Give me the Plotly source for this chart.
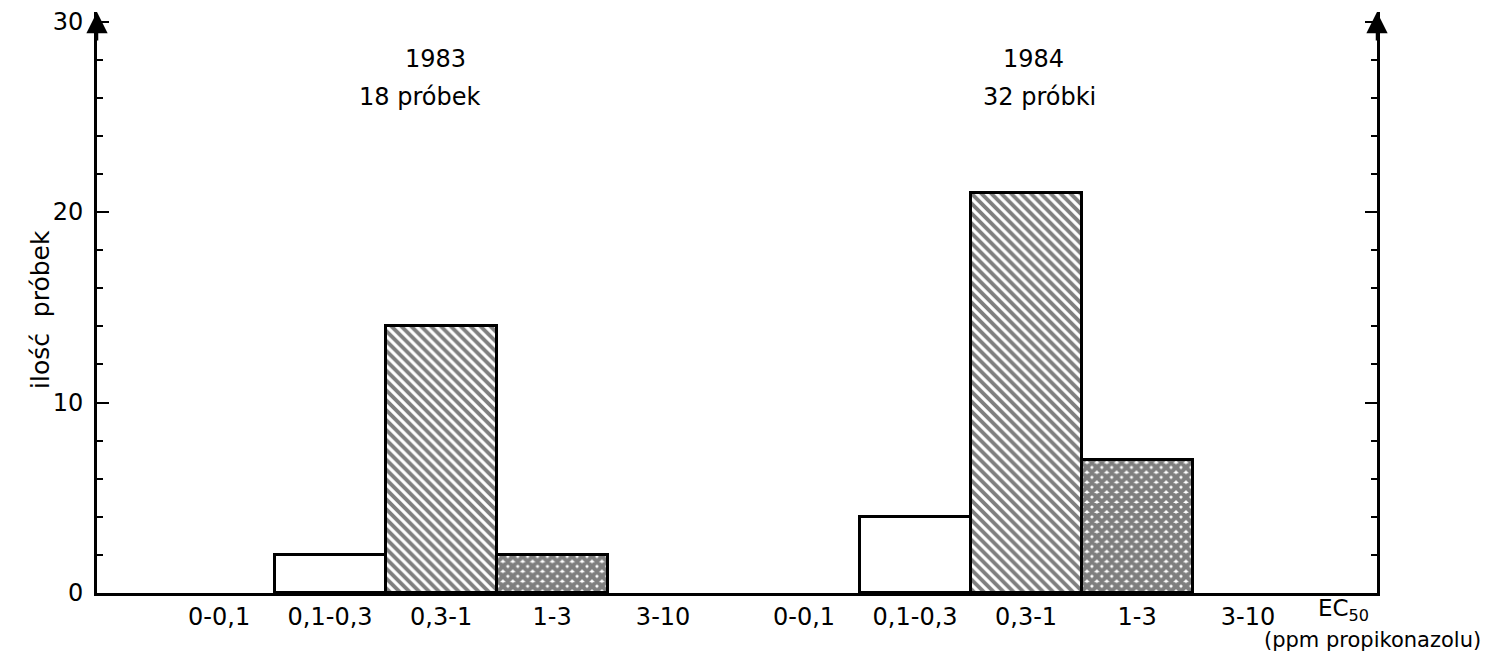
import plotly.graph_objects as go

# ---- data ----
categories = ["0-0,1", "0,1-0,3", "0,3-1", "1-3", "3-10"]
counts_1983 = [0, 2, 14, 2, 0]
counts_1984 = [0, 4, 21, 7, 0]
years = ["1983", "1984"]
sample_labels = ["18 próbek", "32 próbki"]
y_ticks = [0, 10, 20, 30]
y_title = "ilość\u00a0\u00a0próbek"
x_unit_label = "EC<sub>50</sub>"
x_unit_note = "(ppm propikonazolu)"

FONT = "DejaVu Sans"
W, H = 1495, 655
OFF = 8  # page body margin in the browser
# target screen positions of the plot area
SX0, SX1, SY0, SY1 = 97, 1377, 12, 593
ML = SX0 - OFF
MT = SY0 - OFF
plot_w = SX1 - SX0
plot_h = SY1 - SY0
MR = W - ML - plot_w
MB = H - MT - plot_h
px_per_unit = 111.0
x_max = plot_w / px_per_unit
y_max = 30.5

group_start = [1.1, 6.37]
shapes_per_cat = ["", "", "\\", "x", ""]
solid_per_cat = [0, 0, 0.55, 0.85, 0]
size_per_cat = [7, 7, 7, 7, 7]

fig = go.Figure()
all_vals, all_text = [], []
for gi, counts in enumerate([counts_1983, counts_1984]):
    xs = [group_start[gi] + i for i in range(len(categories))]
    all_vals += xs
    all_text += categories
    fig.add_trace(go.Bar(
        x=xs, y=counts, width=1.0,
        marker=dict(
            color="white",
            line=dict(color="black", width=[0 if v == 0 else 3 for v in counts]),
            pattern=dict(shape=shapes_per_cat, fgcolor="black", bgcolor="white",
                         size=size_per_cat, solidity=solid_per_cat, fillmode="overlay"),
        ),
        showlegend=False, hoverinfo="skip",
    ))

fig.update_layout(
    width=W, height=H,
    margin=dict(l=ML, r=MR, t=MT, b=MB, autoexpand=False),
    plot_bgcolor="white", paper_bgcolor="white",
    font=dict(family=FONT, size=24, color="black"),
    bargap=0,
    xaxis=dict(
        range=[0, x_max], showgrid=False, zeroline=False,
        showline=True, linecolor="black", linewidth=3,
        tickvals=all_vals, ticktext=all_text, ticks="",
        tickfont=dict(size=24, family=FONT),
    ),
    yaxis=dict(
        range=[0, y_max], showgrid=False, zeroline=False,
        showline=True, linecolor="black", linewidth=3, mirror="ticks",
        tickvals=y_ticks, ticks="inside", ticklen=12, tickwidth=2, tickcolor="black",
        tickfont=dict(size=24, family=FONT), ticklabeloverflow="allow",
        ticklabelstandoff=6,
        minor=dict(dtick=2, ticks="inside", ticklen=6, tickwidth=2, tickcolor="black"),
    ),
)

def px2paper_x(px):
    return (px - SX0) / plot_w

def py2paper_y(py):
    return (SY1 - py) / plot_h

ann = []
# axis arrows
for xp in [0, 1]:
    ann.append(dict(xref="paper", yref="paper", x=xp, y=1.0, ax=0, ay=30,
                    axref="pixel", ayref="pixel", text="", showarrow=True,
                    arrowhead=2, arrowsize=1.7, arrowwidth=2.5, arrowcolor="black"))
# year / sample titles
title_pos = [(435, 419), (1033, 1039)]
for (yx, sx), yr, sl in zip(title_pos, years, sample_labels):
    ann.append(dict(xref="paper", yref="paper", x=px2paper_x(yx), y=py2paper_y(59),
                    text=yr, showarrow=False, font=dict(size=24), xanchor="center", yanchor="middle"))
    ann.append(dict(xref="paper", yref="paper", x=px2paper_x(sx), y=py2paper_y(97),
                    text=sl, showarrow=False, font=dict(size=24), xanchor="center", yanchor="middle"))
# y title
ann.append(dict(xref="paper", yref="paper", x=px2paper_x(40), y=py2paper_y(310),
                text=y_title, textangle=-90, showarrow=False, font=dict(size=25),
                xanchor="center", yanchor="middle"))
# EC50 unit labels
ann.append(dict(xref="paper", yref="paper", x=px2paper_x(1343), y=py2paper_y(610),
                text=x_unit_label, showarrow=False, font=dict(size=23),
                xanchor="center", yanchor="middle"))
ann.append(dict(xref="paper", yref="paper", x=px2paper_x(1372), y=py2paper_y(640),
                text=x_unit_note, showarrow=False, font=dict(size=21),
                xanchor="center", yanchor="middle"))
fig.update_layout(annotations=ann)

fig.write_html("out.html")
